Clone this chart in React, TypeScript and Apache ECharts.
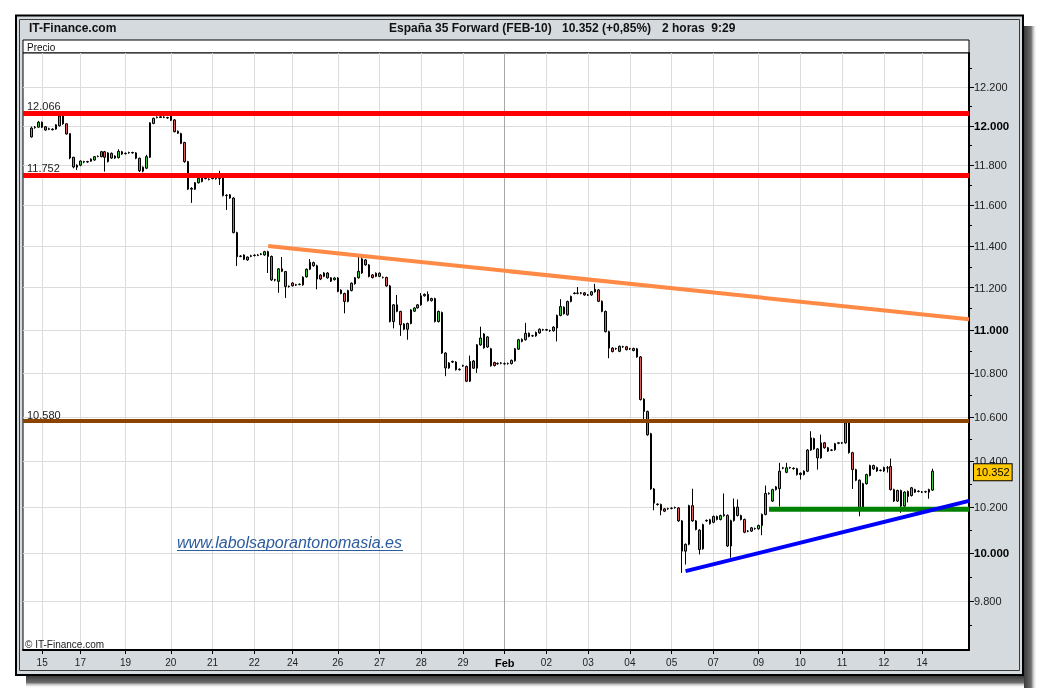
import React, { useEffect, useRef } from "react";
import * as echarts from "echarts";

// OHLC in index points: [open, close, low, high]
const seg1 = [
  [11943,11988,11940,11996],[11990,11993,11985,11998],[11993,12018,11990,12025],[12018,11992,11988,12022],
  [11995,11978,11975,11998],[11982,11985,11978,11990],[11983,11980,11976,11987],[11983,12005,11980,12008],
  [12000,12050,11996,12058],[12050,12010,12005,12060],[12010,11958,11955,12012],[11960,11836,11830,11962],
  [11840,11791,11784,11842],[11800,11790,11776,11805],[11800,11821,11795,11824],[11816,11818,11810,11822],
  [11818,11816,11812,11822],[11820,11831,11817,11834],[11826,11843,11822,11846],[11844,11845,11840,11849],
  [11843,11868,11840,11872],[11868,11840,11768,11872],[11818,11862,11814,11866],[11860,11836,11832,11864],
  [11846,11836,11832,11850],[11838,11870,11834,11880],[11868,11856,11852,11872],[11858,11860,11854,11864],
  [11862,11864,11858,11868],[11864,11862,11858,11868],[11862,11835,11830,11866],[11835,11772,11766,11838],
  [11770,11790,11764,11794],[11785,11843,11780,11852],[11840,12015,11836,12018],[12012,12038,12008,12042],
  [12042,12044,12038,12048],[12042,12046,12040,12050],[12045,12043,12039,12049],[12042,12040,12036,12046],
  [12050,12028,12024,12058],[12030,11970,11966,12034],[11972,11962,11958,11976],[11960,11910,11906,11964],
  [11915,11818,11812,11918],[11818,11680,11676,11822],[11684,11680,11612,11690],[11680,11712,11676,11716],
  [11712,11734,11708,11738],[11740,11718,11714,11744],[11733,11735,11729,11739],[11730,11728,11724,11734],
  [11733,11736,11729,11740],[11734,11732,11728,11738],[11733,11734,11701,11772],[11735,11648,11644,11738],
  [11648,11650,11577,11655],[11652,11636,11632,11656],[11636,11466,11462,11640],[11466,11348,11304,11470],
  [11350,11352,11346,11356],[11357,11336,11332,11360],[11347,11333,11329,11350],[11350,11353,11346,11358],
  [11354,11356,11350,11360],[11357,11355,11351,11361],[11360,11362,11356,11366],
];
const seg2 = [
  [11357,11373,11353,11377],[11373,11350,11270,11378],[11350,11237,11232,11354],[11238,11236,11230,11242],
  [11230,11290,11175,11294],[11290,11278,11274,11347],[11277,11205,11151,11280],[11205,11207,11200,11210],
  [11222,11209,11205,11226],[11212,11214,11208,11218],[11215,11216,11211,11220],[11213,11250,11209,11254],
  [11252,11288,11248,11292],[11288,11322,11284,11337],[11305,11320,11300,11325],[11305,11241,11192,11310],
  [11260,11241,11236,11264],[11254,11270,11250,11274],[11270,11247,11243,11274],[11247,11231,11227,11250],
  [11238,11246,11234,11250],[11246,11182,11178,11250],[11188,11172,11168,11192],[11172,11134,11078,11176],
  [11134,11186,11130,11190],[11186,11221,11182,11225],[11218,11247,11214,11251],[11247,11278,11243,11348],
  [11270,11338,11266,11357],[11333,11309,11305,11337],[11309,11253,11249,11313],[11261,11248,11244,11265],
  [11254,11269,11250,11273],[11269,11254,11250,11273],[11248,11249,11244,11253],[11249,11208,11204,11252],
  [11208,11039,11035,11213],[11039,11118,11007,11122],[11118,11087,11083,11165],[11087,11024,10972,11090],
  [11028,11003,10998,11032],[11003,11030,10954,11034],[11030,11094,11026,11098],[11088,11103,11084,11107],
  [11104,11118,11100,11122],[11118,11161,11114,11174],[11161,11168,11157,11172],[11168,11138,11134,11182],
  [11138,11148,11134,11152],[11148,11039,11035,11152],[11039,11087,11035,11091],[11082,10892,10888,11086],
  [10892,10823,10785,10896],[10823,10846,10819,10850],[10850,10853,10846,10857],[10850,10815,10811,10854],
  [10815,10817,10811,10821],[10832,10834,10828,10838],[10830,10762,10758,10834],[10762,10853,10758,10880],
  [10855,10822,10818,10860],[10822,10930,10800,10934],[10930,10962,10926,11015],[10981,10916,10912,10985],
  [10920,10967,10916,10971],[10912,10833,10829,10916],[10848,10834,10830,10852],
];
const seg3 = [
  [10842,10844,10838,10848],[10845,10846,10840,10850],[10843,10842,10838,10848],[10843,10844,10838,10848],
  [10843,10858,10839,10862],[10856,10912,10852,10916],[10910,10954,10906,10958],[10946,10956,10942,10960],
  [10954,10984,10950,11033],[10984,10969,10965,10988],[10972,10973,10967,10977],[10972,10988,10968,10992],
  [10986,11003,10982,11007],[11000,11001,10996,11005],[11001,10999,10995,11005],[10996,10997,10991,11001],
  [10996,11013,10992,11017],[11009,11068,10946,11072],[11068,11110,11064,11145],[11107,11076,11072,11111],
  [11071,11134,11067,11138],[11134,11158,11130,11162],[11172,11174,11168,11178],[11174,11173,11168,11203],
  [11173,11175,11168,11179],[11175,11165,11161,11179],[11164,11165,11160,11169],[11165,11180,11161,11184],
  [11180,11192,11176,11218],[11189,11135,11131,11193],[11135,11087,11083,11139],[11087,10992,10988,11091],
  [10992,10915,10868,10996],[10915,10899,10895,10919],[10912,10913,10907,10917],[10900,10923,10896,10927],
  [10921,10922,10916,10926],[10921,10908,10904,10925],[10911,10912,10906,10916],[10913,10904,10900,10917],
  [10912,10874,10870,10916],[10874,10678,10674,10878],[10680,10624,10587,10684],[10624,10519,10515,10628],
  [10524,10279,10275,10528],[10279,10217,10186,10283],[10211,10213,10206,10216],[10211,10186,10164,10215],
  [10192,10182,10178,10196],[10192,10193,10188,10197],[10194,10195,10190,10199],[10198,10197,10193,10202],
];
const seg4 = [
  [10196,10140,10136,10200],[10140,10010,9918,10144],[10010,10039,9953,10043],[10039,10206,10035,10210],
  [10206,10140,10136,10280],[10140,10103,10099,10144],[10100,10017,9996,10104],[10020,10124,10016,10128],
  [10140,10142,10136,10146],[10145,10128,10124,10149],[10134,10159,10130,10163],[10159,10146,10142,10163],
  [10146,10163,10142,10167],[10162,10168,10158,10259],[10164,10032,10028,10168],[10032,10141,9982,10145],
  [10141,10200,10137,10237],[10200,10163,10159,10233],[10163,10146,10142,10167],[10146,10091,10087,10150],
  [10095,10096,10091,10100],[10096,10110,10092,10114],[10106,10107,10102,10111],[10106,10120,10102,10124],
  [10120,10168,10078,10172],[10168,10259,10164,10294],[10258,10260,10254,10264],[10226,10276,10222,10280],
  [10276,10288,10272,10292],[10280,10357,10202,10394],[10370,10372,10366,10376],[10352,10372,10348,10394],
  [10372,10373,10368,10377],[10370,10368,10364,10374],[10368,10342,10338,10372],
];
const seg5 = [
  [10348,10342,10320,10352],[10342,10357,10338,10361],[10357,10451,10353,10455],[10451,10505,10447,10535],
  [10502,10456,10452,10506],[10456,10416,10364,10460],[10416,10483,10412,10520],[10483,10461,10457,10487],
  [10461,10446,10442,10465],[10450,10451,10446,10455],[10452,10479,10448,10483],[10481,10483,10477,10487],
  [10483,10482,10478,10487],[10483,10573,10479,10580],[10573,10439,10435,10577],[10439,10364,10279,10443],
  [10364,10317,10313,10368],[10317,10197,10160,10321],[10200,10302,10196,10306],[10302,10342,10298,10346],
  [10338,10382,10334,10386],[10382,10367,10363,10386],[10373,10358,10354,10377],[10360,10361,10356,10365],
  [10358,10373,10354,10377],[10372,10371,10351,10380],[10378,10276,10272,10413],[10276,10226,10222,10280],
  [10226,10272,10222,10276],[10272,10204,10175,10276],[10204,10265,10200,10269],[10268,10246,10220,10272],
  [10250,10284,10246,10288],[10276,10265,10261,10280],[10268,10269,10264,10273],[10266,10265,10261,10270],
  [10267,10266,10262,10271],[10276,10265,10236,10280],[10274,10357,10270,10368],
];

const firstSlot = 2;
const slotRange = [-0.5, 271.5];
const dayTickSlots = [5, 16, 29, 42, 54, 66, 77, 90, 102, 114, 126, 138, 150, 162, 174, 186, 198, 211, 223, 235, 247, 258];
const dayTickLabels = ["15", "17", "19", "20", "21", "22", "24", "26", "27", "28", "29", "Feb", "02", "03", "04", "05", "07", "09", "10", "11", "12", "14"];
const priceTicks = [9800, 10000, 10200, 10400, 10600, 10800, 11000, 11200, 11400, 11600, 11800, 12000, 12200];
const minorPriceTicks = [9700, 9900, 10100, 10300, 10500, 10700, 10900, 11100, 11300, 11500, 11700, 11900, 12100, 12300];
const priceRange = [9597, 12378];
const redLevels = [12066, 11752];
const brownLevel = 10580;
const lastPrice = 10352;
const orangeTrend = [[70, 11400], [271.5, 11050]];
const blueTrend = [[190, 9925], [271.5, 10227]];
const greenSupport = [[214, 10190], [271.5, 10190]];

const FONT = '"Liberation Sans", Arial, Helvetica, sans-serif';
const ln = Math.log;
const fmt = (n: number) => {
  const s = String(Math.round(n));
  return s.slice(0, -3) + "." + s.slice(-3);
};

export default function App() {
  const ref = useRef<HTMLDivElement>(null);
  useEffect(() => {
    if (!ref.current) return;
    const chart = echarts.init(ref.current, undefined, { renderer: "svg" });
    const candles = [...seg1, ...seg2, ...seg3, ...seg4, ...seg5];
    const candleData = candles.map((c, i) => [i + firstSlot, ln(c[0]), ln(c[1]), ln(c[2]), ln(c[3])]);
    const lineData = (pts: number[][]) => pts.map(([x, p]) => [x, ln(p)]);
    const levelLine = (v: number, color: string, width: number) => ({
      yAxis: ln(v),
      lineStyle: { color, width, type: "solid", opacity: 1 },
      label: {
        show: true,
        formatter: fmt(v),
        position: "insideStartTop",
        distance: [4, 1],
        color: "#222",
        fontSize: 11,
        fontFamily: FONT,
      },
    });

    const option: any = {
      animation: false,
      backgroundColor: "transparent",
      grid: {
        left: 23,
        right: 71,
        top: 53,
        bottom: 40,
        show: true,
        backgroundColor: "#ffffff",
        borderColor: "#000",
        borderWidth: 1,
        outerBoundsMode: "none",
        containLabel: false,
      },
      xAxis: [
        {
          type: "value",
          min: slotRange[0],
          max: slotRange[1],
          position: "bottom",
          axisLine: { show: true, onZero: false, lineStyle: { color: "#000", width: 2 } },
          axisTick: { show: true, customValues: dayTickSlots, length: 4, lineStyle: { color: "#000" } },
          axisLabel: {
            customValues: dayTickSlots,
            margin: 7,
            formatter: (v: number) => {
              const t = dayTickLabels[dayTickSlots.indexOf(Math.round(v))] ?? "";
              return t === "Feb" ? `{b|${t}}` : `{n|${t}}`;
            },
            rich: {
              n: { fontSize: 10, color: "#222", fontFamily: FONT },
              b: { fontSize: 11, color: "#000", fontWeight: "bold", fontFamily: FONT },
            },
          },
          splitLine: {
            show: true,
            lineStyle: { color: dayTickLabels.map((l) => (l === "Feb" ? "#a8a8a8" : "#dcdcdc")), width: 1 },
          },
        },
      ],
      yAxis: [
        {
          type: "value",
          position: "right",
          min: ln(priceRange[0]),
          max: ln(priceRange[1]),
          axisLine: { show: true, onZero: false, lineStyle: { color: "#000", width: 2 } },
          axisTick: { show: true, customValues: priceTicks.map(ln), length: 5, lineStyle: { color: "#000" } },
          axisLabel: {
            customValues: priceTicks.map(ln),
            margin: 5,
            formatter: (v: number) => {
              const p = Math.round(Math.exp(v));
              return p % 1000 === 0 ? `{b|${fmt(p)}}` : `{n|${fmt(p)}}`;
            },
            rich: {
              n: { fontSize: 11, color: "#222", fontFamily: FONT },
              b: { fontSize: 11.5, color: "#000", fontWeight: "bold", fontFamily: FONT },
            },
          },
          splitLine: { show: true, lineStyle: { color: "#dcdcdc", width: 1 } },
        },
        {
          type: "value",
          position: "right",
          min: ln(priceRange[0]),
          max: ln(priceRange[1]),
          axisLine: { show: false, onZero: false },
          axisTick: { show: true, customValues: minorPriceTicks.map(ln), length: 3, lineStyle: { color: "#000" } },
          axisLabel: { show: false },
          splitLine: { show: false },
        },
      ],
      series: [
        {
          type: "candlestick",
          xAxisIndex: 0,
          yAxisIndex: 0,
          data: candleData,
          barWidth: 2,
          z: 3,
          silent: true,
          itemStyle: {
            color: "#3cc83c",
            color0: "#e05a5a",
            borderColor: "#000",
            borderColor0: "#000",
            borderWidth: 1,
          },
          markLine: {
            silent: true,
            precision: 10,
            symbol: ["none", "none"],
            animation: false,
            data: [
              levelLine(redLevels[0], "#ff0000", 5),
              levelLine(redLevels[1], "#ff0000", 5),
              levelLine(brownLevel, "#8a4400", 4),
              {
                yAxis: ln(lastPrice),
                lineStyle: { color: "rgba(0,0,0,0)", width: 0, opacity: 1 },
                label: {
                  show: true,
                  opacity: 1,
                  position: "end",
                  distance: 5,
                  formatter: fmt(lastPrice),
                  backgroundColor: "#ffc800",
                  borderColor: "#000",
                  borderWidth: 1,
                  padding: [3, 2, 2, 2],
                  color: "#000",
                  fontSize: 11,
                  fontFamily: FONT,
                },
              },
            ],
          },
        },
        {
          type: "line",
          xAxisIndex: 0,
          yAxisIndex: 0,
          data: lineData(orangeTrend),
          symbol: "none",
          silent: true,
          z: 5,
          lineStyle: { color: "#ff8a45", width: 4 },
        },
        {
          type: "line",
          xAxisIndex: 0,
          yAxisIndex: 0,
          data: lineData(greenSupport),
          symbol: "none",
          silent: true,
          z: 5,
          lineStyle: { color: "#008000", width: 5 },
        },
        {
          type: "line",
          xAxisIndex: 0,
          yAxisIndex: 0,
          data: lineData(blueTrend),
          symbol: "none",
          silent: true,
          z: 6,
          lineStyle: { color: "#0000ff", width: 4 },
        },
      ],
      graphic: [
        {
          type: "rect",
          z: -20,
          silent: true,
          shape: { x: 1024, y: 26, width: 13, height: 662 },
          style: {
            fill: new echarts.graphic.LinearGradient(0, 0, 1, 0, [
              { offset: 0, color: "#3a3a3a" },
              { offset: 0.55, color: "#6e6e6e" },
              { offset: 1, color: "rgba(255,255,255,0)" },
            ]),
          },
        },
        {
          type: "rect",
          z: -20,
          silent: true,
          shape: { x: 26, y: 676, width: 998, height: 12 },
          style: {
            fill: new echarts.graphic.LinearGradient(0, 0, 0, 1, [
              { offset: 0, color: "#3a3a3a" },
              { offset: 0.55, color: "#6e6e6e" },
              { offset: 1, color: "rgba(255,255,255,0)" },
            ]),
          },
        },
        {
          type: "rect",
          z: -10,
          silent: true,
          shape: { x: 16, y: 15.5, width: 1007, height: 659.5 },
          style: { fill: "#d4dade", stroke: "#000", lineWidth: 2 },
        },
        {
          type: "rect",
          z: -9,
          silent: true,
          shape: { x: 19.5, y: 19.5, width: 1000, height: 651 },
          style: { fill: "none", stroke: "#3a3a3a", lineWidth: 1 },
        },
        {
          type: "rect",
          z: -5,
          silent: true,
          shape: { x: 23, y: 40, width: 946, height: 13 },
          style: { fill: "#fff", stroke: "#000", lineWidth: 1 },
        },
        {
          type: "text",
          z: 10,
          x: 29,
          y: 28,
          style: { text: "IT-Finance.com", fontSize: 12, fontWeight: "bold", fontFamily: FONT, fill: "#111", verticalAlign: "middle", textVerticalAlign: "middle" },
        },
        {
          type: "text",
          z: 10,
          x: 389,
          y: 28,
          style: { text: "España 35 Forward (FEB-10)", fontSize: 12, fontWeight: "bold", fontFamily: FONT, fill: "#111", verticalAlign: "middle", textVerticalAlign: "middle" },
        },
        {
          type: "text",
          z: 10,
          x: 562,
          y: 28,
          style: { text: "10.352 (+0,85%)", fontSize: 12, fontWeight: "bold", fontFamily: FONT, fill: "#111", verticalAlign: "middle", textVerticalAlign: "middle" },
        },
        {
          type: "text",
          z: 10,
          x: 662,
          y: 28,
          style: { text: "2 horas  9:29", fontSize: 12, fontWeight: "bold", fontFamily: FONT, fill: "#111", verticalAlign: "middle", textVerticalAlign: "middle" },
        },
        {
          type: "text",
          z: 10,
          x: 27,
          y: 47,
          style: { text: "Precio", fontSize: 10, fontFamily: FONT, fill: "#111", verticalAlign: "middle", textVerticalAlign: "middle" },
        },
        {
          type: "text",
          z: 10,
          x: 25,
          y: 644,
          style: { text: "© IT-Finance.com", fontSize: 10, fontFamily: FONT, fill: "#222", verticalAlign: "middle", textVerticalAlign: "middle" },
        },
        {
          type: "text",
          z: 10,
          x: 177,
          y: 542,
          style: { text: "www.labolsaporantonomasia.es", fontSize: 16, fontStyle: "italic", fontFamily: FONT, fill: "#2c5c9c", verticalAlign: "middle", textVerticalAlign: "middle" },
        },
        {
          type: "line",
          z: 10,
          silent: true,
          shape: { x1: 177, y1: 550.5, x2: 403, y2: 550.5 },
          style: { stroke: "#2c5c9c", lineWidth: 1 },
        },
      ],
    };
    chart.setOption(option);
    return () => chart.dispose();
  }, []);
  return <div ref={ref} style={{ position: "fixed", left: 0, top: 0, width: 1040, height: 690 }} />;
}
